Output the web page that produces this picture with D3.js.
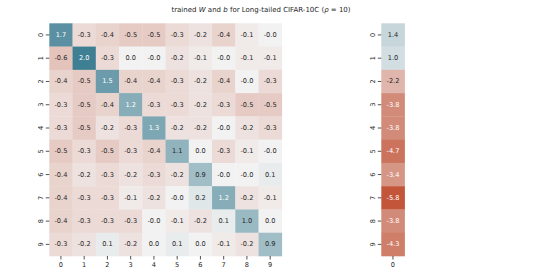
<!DOCTYPE html>
<html><head><meta charset="utf-8">
<script src="https://cdn.jsdelivr.net/npm/d3@7"></script>
<style>body{margin:0;background:#fff}svg{display:block}</style>
</head><body>
<svg id="c" width="548" height="274"></svg>
<script>
const classes = ["0","1","2","3","4","5","6","7","8","9"];
const biasCols = ["0"];
const W = [
  [1.7,-0.3,-0.4,-0.5,-0.5,-0.3,-0.2,-0.4,-0.1,-0.0],
  [-0.6,2.0,-0.3,0.0,-0.0,-0.2,-0.1,-0.0,-0.1,-0.1],
  [-0.4,-0.5,1.5,-0.4,-0.4,-0.3,-0.2,-0.4,-0.0,-0.3],
  [-0.3,-0.5,-0.4,1.2,-0.3,-0.3,-0.2,-0.3,-0.5,-0.5],
  [-0.3,-0.5,-0.2,-0.3,1.3,-0.2,-0.2,-0.0,-0.2,-0.3],
  [-0.5,-0.3,-0.5,-0.3,-0.4,1.1,0.0,-0.3,-0.1,-0.0],
  [-0.4,-0.2,-0.3,-0.2,-0.3,-0.2,0.9,-0.0,-0.0,0.1],
  [-0.4,-0.3,-0.3,-0.1,-0.2,-0.0,0.2,1.2,-0.2,-0.1],
  [-0.4,-0.3,-0.3,-0.3,-0.0,-0.1,-0.2,0.1,1.0,0.0],
  [-0.3,-0.2,0.1,-0.2,0.0,0.1,0.0,-0.1,-0.2,0.9]
];
const Wlabels = [
  ["1.7","-0.3","-0.4","-0.5","-0.5","-0.3","-0.2","-0.4","-0.1","-0.0"],
  ["-0.6","2.0","-0.3","0.0","-0.0","-0.2","-0.1","-0.0","-0.1","-0.1"],
  ["-0.4","-0.5","1.5","-0.4","-0.4","-0.3","-0.2","-0.4","-0.0","-0.3"],
  ["-0.3","-0.5","-0.4","1.2","-0.3","-0.3","-0.2","-0.3","-0.5","-0.5"],
  ["-0.3","-0.5","-0.2","-0.3","1.3","-0.2","-0.2","-0.0","-0.2","-0.3"],
  ["-0.5","-0.3","-0.5","-0.3","-0.4","1.1","0.0","-0.3","-0.1","-0.0"],
  ["-0.4","-0.2","-0.3","-0.2","-0.3","-0.2","0.9","-0.0","-0.0","0.1"],
  ["-0.4","-0.3","-0.3","-0.1","-0.2","-0.0","0.2","1.2","-0.2","-0.1"],
  ["-0.4","-0.3","-0.3","-0.3","-0.0","-0.1","-0.2","0.1","1.0","0.0"],
  ["-0.3","-0.2","0.1","-0.2","0.0","0.1","0.0","-0.1","-0.2","0.9"]
];
const bias = [1.4,1.0,-2.2,-3.8,-3.8,-4.7,-3.4,-5.8,-3.8,-4.3];
const biasLabels = ["1.4","1.0","-2.2","-3.8","-3.8","-4.7","-3.4","-5.8","-3.8","-4.3"];

const svg = d3.select("#c");
const font = "DejaVu Sans, sans-serif";

function cmap(vmax){
  const s = d3.scaleLinear().domain([-vmax,0,vmax]).range(["#c3553a","#f2f2f2","#3f7f93"]).interpolate(d3.interpolateRgb).clamp(true);
  return s;
}
function lum(c){
  const r = d3.rgb(c);
  const f = v => { v/=255; return v<=0.03928? v/12.92 : Math.pow((v+0.055)/1.055,2.4); };
  return 0.2126*f(r.r)+0.7152*f(r.g)+0.0722*f(r.b);
}

function heatmap(x0, y0, w, h, cols, rows, vals, labels, vmax){
  const x = d3.scaleBand().domain(cols).range([x0, x0+w]);
  const y = d3.scaleBand().domain(rows).range([y0, y0+h]);
  const col = cmap(vmax);
  const g = svg.append("g");
  rows.forEach((r,i)=>{
    cols.forEach((c,j)=>{
      const v = vals[i][j];
      const fill = col(v);
      g.append("rect").attr("x",x(c)).attr("y",y(r)).attr("width",x.bandwidth()+0.3).attr("height",y.bandwidth()+0.3).attr("fill",fill);
      g.append("text").attr("x",x(c)+x.bandwidth()/2).attr("y",y(r)+y.bandwidth()/2)
        .attr("text-anchor","middle").attr("dominant-baseline","central")
        .attr("font-family",font).attr("font-size",6.6)
        .attr("fill", lum(fill)>0.408 ? "#262626" : "#ffffff")
        .text(labels[i][j]);
    });
  });
  const xa = svg.append("g").attr("transform",`translate(0,${y0+h})`).call(d3.axisBottom(x).tickSize(3.5).tickPadding(2.5));
  const ya = svg.append("g").attr("transform",`translate(${x0},0)`).call(d3.axisLeft(y).tickSize(3.5).tickPadding(2.5));
  [xa,ya].forEach(a=>{
    a.select(".domain").remove();
    a.selectAll("line").attr("stroke","#262626").attr("stroke-width",0.8);
    a.selectAll("text").attr("font-family",font).attr("font-size",6.6).attr("fill","#262626");
  });
  ya.selectAll("text").attr("text-anchor","middle").attr("dy",null).attr("dominant-baseline","auto")
    .attr("transform",function(){ return `translate(-8.5,0) rotate(-90) translate(0,2.3)`; }).attr("x",0);
}

heatmap(49.3, 23.3, 232.5, 232.7, classes, classes, W, Wlabels, 2.0);
heatmap(381.3, 23.3, 23.3, 232.7, biasCols, classes, bias.map(v=>[v]), biasLabels.map(v=>[v]), 5.8);

const t = svg.append("text").attr("x",261).attr("y",12).attr("text-anchor","middle")
  .attr("font-family",font).attr("font-size",7).attr("fill","#262626");
t.append("tspan").text("trained ");
t.append("tspan").attr("font-style","italic").text("W");
t.append("tspan").text(" and ");
t.append("tspan").attr("font-style","italic").text("b");
t.append("tspan").text(" for Long-tailed CIFAR-10C (");
t.append("tspan").attr("font-style","italic").text("ρ");
t.append("tspan").text(" = 10)");
</script>
</body></html>
